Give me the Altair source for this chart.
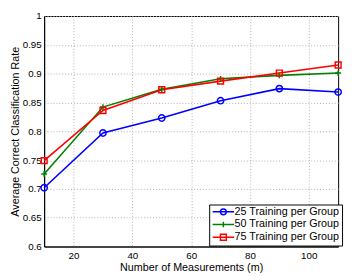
import altair as alt
import pandas as pd

measurements = [10, 30, 50, 70, 90, 110]
series_names = ["25 Training per Group", "50 Training per Group", "75 Training per Group"]
rate_25 = [0.702, 0.797, 0.823, 0.853, 0.874, 0.868]
rate_50 = [0.726, 0.842, 0.873, 0.891, 0.897, 0.901]
rate_75 = [0.749, 0.836, 0.872, 0.887, 0.901, 0.915]
colors = ["#0000ff", "#008000", "#ff0000"]
x_ticks = [20, 40, 60, 80, 100]
y_ticks = [0.6, 0.65, 0.7, 0.75, 0.8, 0.85, 0.9, 0.95, 1.0]

rows = []
for name, vals in zip(series_names, [rate_25, rate_50, rate_75]):
    for m, v in zip(measurements, vals):
        rows.append({"m": m, "rate": v, "series": name})
df = pd.DataFrame(rows)

FONT = "Liberation Sans"

# legend symbols: a short line with the series marker in its middle
circle_leg = "M-1,0H4.5M1,0a0.75,0.75 0 1,0 1.5,0a0.75,0.75 0 1,0 -1.5,0"
plus_leg = "M-1,0H4.5M1.75,-0.7V0.7"
square_leg = "M-1,0H4.5M1,-0.75H2.5V0.75H1Z"

legend = alt.Legend(
    title=None,
    orient="none",
    legendX=169,
    legendY=193,
    fillColor="white",
    strokeColor="black",
    padding=2,
    cornerRadius=0,
    symbolSize=64,
    labelOffset=13,
    labelFont=FONT,
    labelFontSize=11,
    labelColor="black",
    rowPadding=0,
    symbolStrokeWidth=1.5,
    symbolOpacity=1,
    symbolFillColor="transparent",
)

color = alt.Color("series:N", scale=alt.Scale(domain=series_names, range=colors), legend=legend)

x = alt.X("m:Q", scale=alt.Scale(domain=[10, 110], nice=False),
          axis=alt.Axis(values=x_ticks, title="Number of Measurements (m)"))
y = alt.Y("rate:Q", scale=alt.Scale(domain=[0.6, 1.0], nice=False, zero=False),
          axis=alt.Axis(values=y_ticks, format="~g", title="Average Correct Classification Rate"))

base = alt.Chart(df).encode(x=x, y=y, color=color)

lines = base.mark_line(strokeWidth=1.6)

marker_shapes = ["circle", "M-1,0H1M0,-1V1", "square"]
marker_sizes = [42, 36, 36]
marker_layers = [
    base.transform_filter(alt.datum.series == name).mark_point(
        shape=shp, size=sz, filled=False, strokeWidth=1.5, opacity=1)
    for name, shp, sz in zip(series_names, marker_shapes, marker_sizes)
]

# invisible layer that only supplies the legend's symbols
legend_layer = base.mark_point(opacity=0, filled=False).encode(
    shape=alt.Shape("series:N", scale=alt.Scale(domain=series_names,
                    range=[circle_leg, plus_leg, square_leg]), legend=legend)
)

chart = alt.layer(lines, *marker_layers, legend_layer).properties(
    width=301,
    height=236,
    autosize=alt.AutoSizeParams(type="none"),
    padding={"left": 37, "top": 5, "right": 6, "bottom": 28},
).configure_view(
    stroke="black", strokeWidth=1
).configure_axis(
    labelFont=FONT, titleFont=FONT, labelFontSize=10, titleFontSize=11,
    labelColor="black", titleColor="black", titleFontWeight="normal",
    domainColor="black", ticks=False, labelPadding=5,
    grid=True, gridDash=[1, 2], gridColor="#b0b0b0", gridOpacity=1,
).configure_axisX(
    titlePadding=2, labelPadding=4
).configure_axisY(
    titlePadding=2, labelPadding=3
)

chart.save("out.html", embed_options={"renderer": "svg", "actions": False})
